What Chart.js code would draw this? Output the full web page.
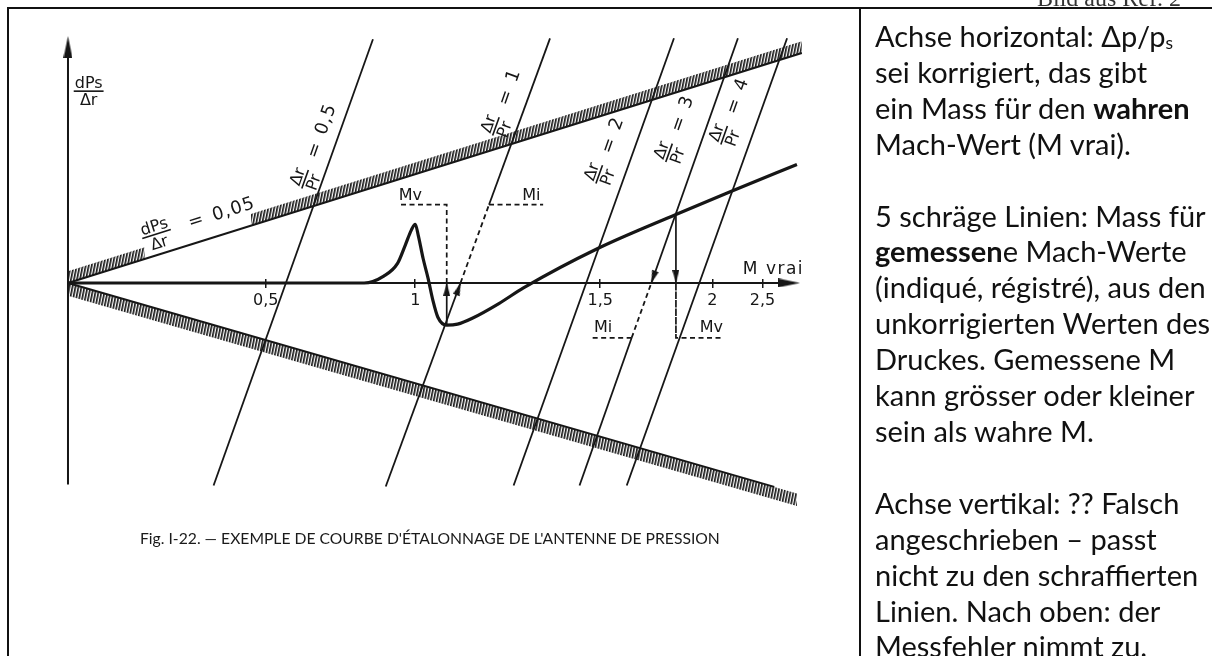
<!DOCTYPE html>
<html lang="de">
<head>
<meta charset="utf-8">
<title>Fig. I-22 – Étalonnage de l'antenne de pression</title>
<script src="https://cdn.jsdelivr.net/npm/chart.js@4.4.1/dist/chart.umd.min.js"></script>
<style>
  html, body { margin: 0; padding: 0; background: #fff; }
  body { position: relative; width: 1212px; height: 656px; overflow: hidden; }
  #chartBox { position: absolute; left: 0; top: 0; width: 860px; height: 656px; }
  #frame { position: absolute; left: 7px; top: 7px; width: 1220px; height: 700px;
           border-top: 2px solid #111; border-left: 2px solid #111; pointer-events: none; }
  #divider { position: absolute; left: 859px; top: 8px; height: 660px; border-left: 2.5px solid #111; }
  #ref { position: absolute; left: 1037px; top: -14px; font: 24px "Liberation Serif", serif;
         line-height: 24px; color: #333; white-space: nowrap; }
  #caption { position: absolute; left: 140px; top: 529px; font: 15.7px Lato, sans-serif;
             line-height: 18px; color: #1a1a1a; white-space: nowrap; }
  #notes { position: absolute; left: 875px; top: 18px; font: 29px Lato, sans-serif;
           line-height: 35.9px; color: #111; white-space: nowrap; }
  #notes sub { font-size: 60%; line-height: 0; vertical-align: baseline; position: relative; top: 0.12em; }
</style>
</head>
<body>
<div id="chartBox"><canvas id="chart" width="860" height="656"></canvas></div>
<div id="frame"></div>
<div id="divider"></div>
<div id="ref">Bild aus Ref. 2</div>
<div id="caption">Fig. I-22. — EXEMPLE DE COURBE D'ÉTALONNAGE DE L'ANTENNE DE PRESSION</div>
<div id="notes">Achse horizontal: Δp/p<sub>s</sub><br>
sei korrigiert, das gibt<br>
ein Mass für den <b>wahren</b><br>
Mach-Wert (M vrai).<br>
<br>
5 schräge Linien: Mass für<br>
<b>gemessen</b>e Mach-Werte<br>
(indiqué, régistré), aus den<br>
unkorrigierten Werten des<br>
Druckes. Gemessene M<br>
kann grösser oder kleiner<br>
sein als wahre M.<br>
<br>
Achse vertikal: ?? Falsch<br>
angeschrieben – passt<br>
nicht zu den schraffierten<br>
Linien. Nach oben: der<br>
Messfehler nimmt zu.</div>
<script>
// drawing units: origin where the axes cross, 10 px per unit

// M vrai scale along the horizontal axis
const machTickAt = [20.1, 35.3, 54.1, 65.5, 70.6];
const machTickLabels = ['0,5', '1', '1,5', '2', '2,5'];

// calibration curve
const curveX = [0, 30.1, 32.1, 33.5, 34.3, 34.9, 35.3, 35.6, 36.1, 36.6, 37.1, 37.6, 38.5, 39.6, 41.1, 43.8, 46.3, 53.8, 61.8, 67.5, 74.1];
const curveY = [0, 0, 0.7, 2.0, 3.9, 5.4, 6.0, 4.9, 2.5, 0.5, -1.8, -3.5, -4.3, -4.2, -3.6, -2.1, -0.5, 3.5, 7.0, 9.4, 12.1];

// Δr/Pr lines, bottom end first; lines 1 and 3 have one dashed piece
const rayValues = ['0,5', '1', '2', '3', '4'];
const rayPoints = [
  [[14.8, -20.7], [31.0, 24.9]],
  [[32.3, -20.8], [39.9, 0], [42.8, 8.0], [49.0, 25.0]],
  [[45.3, -20.7], [61.6, 25.0]],
  [[52.0, -20.7], [57.3, -5.6], [59.3, 0], [68.1, 25.0]],
  [[56.8, -20.7], [73.1, 25.0]]
];
const rayDashedPiece = [-1, 1, -1, 1, -1];

// hatched limits
const upperEdge = [[0, 0], [74.6, 23.5]];
const upperHatchBase = [[[0, 0], [7.8, 2.457]], [[18.6, 5.859], [74.6, 23.5]]];
const upperHatchTop = [[[0, 1.2], [7.8, 3.657]], [[18.6, 7.059], [74.6, 24.7]]];
const lowerEdge = [[0, 0], [71.8, -20.83]];
const lowerHatchBase = [[0, 0], [74.1, -21.5]];
const lowerHatchBottom = [[0, -1.3], [74.1, -22.8]];

// axes
const axisH = [[0, 0], [73.0, 0]];
const axisV = [[0, -20.6], [0, 23.5]];
const bigArrowAt = [[0, 24.1], [73.3, 0]];
const bigArrowTurn = [0, 90];

// Mv / Mi read-offs
const mvUpper = [[38.5, -4.3], [38.5, 0], [38.5, 8.0], [33.5, 8.0]];
const miUpper = [[42.8, 8.0], [48.3, 8.0]];
const mvLower = [[61.8, 7.0], [61.8, 0], [61.8, -5.6], [66.5, -5.6]];
const miLower = [[57.3, -5.6], [53.3, -5.6]];
const smallArrowAt = [[38.5, -0.65], [39.7, -0.6], [61.8, 0.65], [59.5, 0.6]];
const smallArrowTurn = [0, 20, 180, 199.4];

// label anchors
const rayLabelAt = [[24.1, 10.6], [43.5, 16.0], [54.0, 11.1], [61.1, 13.3], [66.7, 15.1]];
const mLabels = [['Mv', 34.8, 8.9], ['Mi', 47.1, 8.9], ['Mi', 54.4, -4.6], ['Mv', 65.4, -4.6]];

const ink = '#161616';
const FONT = '"DejaVu Sans", sans-serif';
Chart.defaults.font.family = FONT;
Chart.defaults.color = ink;

const canvas = document.getElementById('chart');
const ctx2d = canvas.getContext('2d');

function arrowHead(w, h) {
  const c = document.createElement('canvas');
  c.width = w; c.height = h;
  const g = c.getContext('2d');
  g.fillStyle = ink;
  g.beginPath();
  g.moveTo(w / 2, 0);
  g.lineTo(w, h);
  g.lineTo(0, h);
  g.closePath();
  g.fill();
  return c;
}

function hatchPattern() {
  const c = document.createElement('canvas');
  c.width = 3; c.height = 3;
  const g = c.getContext('2d');
  g.fillStyle = ink;
  g.fillRect(0, 0, 1.7, 3);
  const p = ctx2d.createPattern(c, 'repeat');
  p.setTransform(new DOMMatrix([1, 0, -0.2, 1, 0, 0]));
  return p;
}

const hatch = hatchPattern();
const bigHead = arrowHead(9, 22);
const smallHead = arrowHead(7, 13);
const dash = [5, 3.5];

const pts = arr => arr.map(([x, y]) => ({x, y}));
const stroke = (data, width, extra) => Object.assign({
  data: pts(data), borderColor: ink, borderWidth: width,
  pointRadius: 0, fill: false, tension: 0
}, extra);
const hidden = data => ({data: pts(data), borderColor: 'rgba(0,0,0,0)', borderWidth: 0, pointRadius: 0, fill: false});
const hatched = data => ({data: pts(data), borderColor: 'rgba(0,0,0,0)', borderWidth: 0, pointRadius: 0,
  fill: '-1', backgroundColor: hatch});

const datasets = [];

datasets.push(stroke(curveX.map((v, i) => [v, curveY[i]]), 3.2, {cubicInterpolationMode: 'monotone'}));
datasets.push(stroke(axisH, 2));
datasets.push(stroke(axisV, 2));

rayPoints.forEach((ray, i) => {
  const piece = rayDashedPiece[i];
  datasets.push(stroke(ray, 1.8, {
    segment: {borderDash: c => (c.p0DataIndex === piece ? dash : undefined)}
  }));
});

[mvUpper, mvLower].forEach(lead => {
  datasets.push(stroke(lead, 1.7, {
    segment: {borderDash: c => (c.p0DataIndex >= 1 ? dash : undefined)}
  }));
});
[miUpper, miLower].forEach(lead => datasets.push(stroke(lead, 1.7, {borderDash: dash})));

datasets.push(stroke(upperEdge, 2));
datasets.push(stroke(lowerEdge, 2));
upperHatchBase.forEach((base, i) => {
  datasets.push(hidden(base));
  datasets.push(hatched(upperHatchTop[i]));
});
datasets.push(hidden(lowerHatchBase));
datasets.push(hatched(lowerHatchBottom));

datasets.push({data: pts(bigArrowAt), showLine: false, pointStyle: bigHead,
  pointRadius: 6, pointRotation: bigArrowTurn});
datasets.push({data: pts(smallArrowAt), showLine: false, pointStyle: smallHead,
  pointRadius: 4, pointRotation: smallArrowTurn});

// stacked fraction, optionally followed by "= value", turned by angle
function fractionNote(ctx, p, angle, top, bottom, value, gap) {
  ctx.save();
  ctx.translate(p[0], p[1]);
  ctx.rotate(angle * Math.PI / 180);
  ctx.font = '16px ' + FONT;
  const w = Math.max(ctx.measureText(top).width, ctx.measureText(bottom).width) + 2;
  ctx.textAlign = 'center';
  ctx.textBaseline = 'alphabetic';
  ctx.fillText(top, 0, -3);
  ctx.textBaseline = 'top';
  ctx.fillText(bottom, 0, 2);
  ctx.fillRect(-w / 2, -0.8, w, 1.6);
  if (value) {
    ctx.font = '18px ' + FONT;
    ctx.letterSpacing = '1px';
    ctx.textAlign = 'left';
    ctx.textBaseline = 'middle';
    ctx.fillText('=', w / 2 + gap, 0);
    ctx.fillText(value, w / 2 + gap + 25, 0);
  }
  ctx.restore();
}

const inscriptions = {
  id: 'inscriptions',
  afterDraw(chart) {
    const {ctx} = chart;
    const sx = chart.scales.x, sy = chart.scales.y;
    const at = (u, v) => [sx.getPixelForValue(u), sy.getPixelForValue(v)];
    ctx.save();
    ctx.fillStyle = ink;
    rayValues.forEach((val, i) => fractionNote(ctx, at(...rayLabelAt[i]), -70.4, 'Δr', 'Pr', val, 13));
    fractionNote(ctx, at(9.0, 5.0), -17.5, 'dPs', 'Δr', '0,05', 19);
    fractionNote(ctx, at(2.1, 19.6), 0, 'dPs', 'Δr', null, 0);

    ctx.font = '16px ' + FONT;
    ctx.textAlign = 'center';
    ctx.textBaseline = 'middle';
    mLabels.forEach(([t, u, v]) => {
      const p = at(u, v);
      ctx.fillText(t, p[0], p[1]);
    });

    ctx.font = '17px ' + FONT;
    ctx.letterSpacing = '1.5px';
    ctx.textAlign = 'left';
    const mv = at(68.6, 1.4);
    ctx.fillText('M vrai', mv[0], mv[1]);
    ctx.restore();
  }
};

new Chart(canvas, {
  type: 'line',
  data: {datasets},
  options: {
    responsive: false,
    devicePixelRatio: 1,
    animation: false,
    layout: {padding: 0},
    plugins: {legend: {display: false}, tooltip: {enabled: false}},
    scales: {
      x: {
        type: 'linear',
        min: -6.2,
        max: 79.8,
        bounds: 'data',
        position: {y: 0.4},
        border: {display: false},
        grid: {drawOnChartArea: false, drawTicks: true, tickLength: 9, color: ink, lineWidth: 1.5},
        afterBuildTicks: axis => { axis.ticks = machTickAt.map(v => ({value: v})); },
        ticks: {
          autoSkip: false,
          maxRotation: 0,
          padding: 3,
          font: {size: 16},
          color: ink,
          callback: (value, index) => machTickLabels[index]
        }
      },
      y: {type: 'linear', min: -37.4, max: 28.2, display: false}
    }
  },
  plugins: [inscriptions]
});
</script>
</body>
</html>
